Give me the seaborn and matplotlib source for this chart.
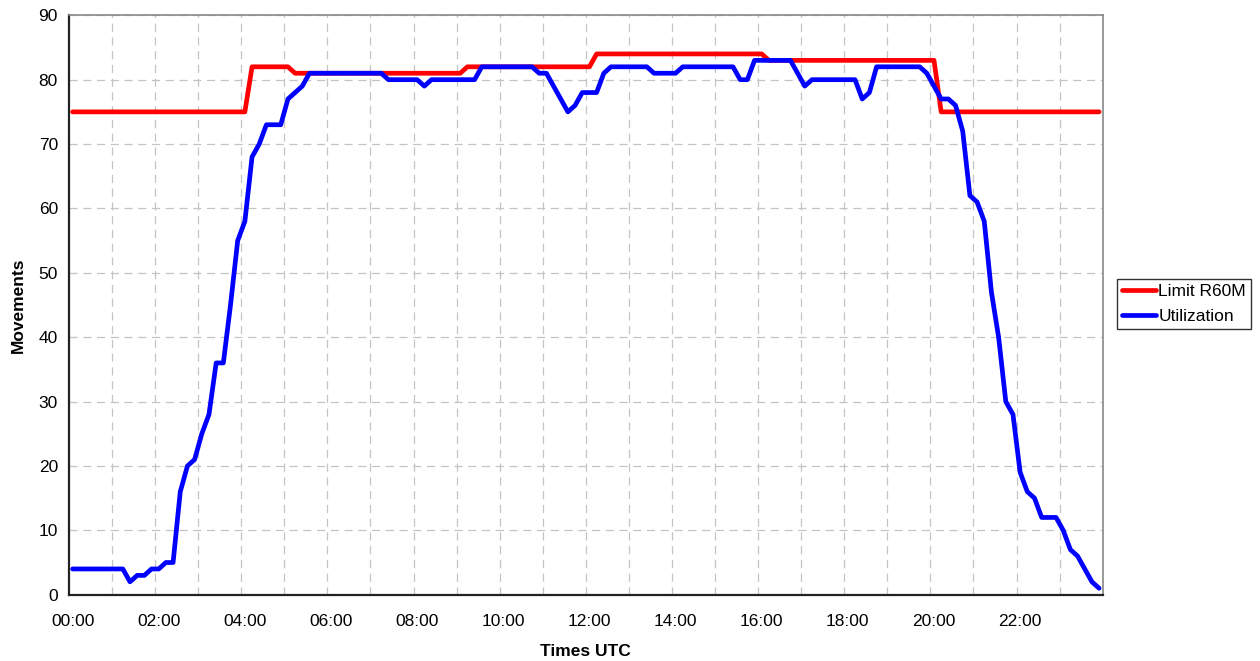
import numpy as np
import pandas as pd
import matplotlib
matplotlib.use("Agg")
import matplotlib.pyplot as plt
import seaborn as sns

# 10-minute slots over one day (category labels)
slots = [f"{h:02d}:{m:02d}" for h in range(24) for m in range(0, 60, 10)]

# values, one row per 2 hours
limit_r60m = [
    75, 75, 75, 75, 75, 75, 75, 75, 75, 75, 75, 75,
    75, 75, 75, 75, 75, 75, 75, 75, 75, 75, 75, 75,
    75, 82, 82, 82, 82, 82, 82, 81, 81, 81, 81, 81,
    81, 81, 81, 81, 81, 81, 81, 81, 81, 81, 81, 81,
    81, 81, 81, 81, 81, 81, 81, 82, 82, 82, 82, 82,
    82, 82, 82, 82, 82, 82, 82, 82, 82, 82, 82, 82,
    82, 84, 84, 84, 84, 84, 84, 84, 84, 84, 84, 84,
    84, 84, 84, 84, 84, 84, 84, 84, 84, 84, 84, 84,
    84, 83, 83, 83, 83, 83, 83, 83, 83, 83, 83, 83,
    83, 83, 83, 83, 83, 83, 83, 83, 83, 83, 83, 83,
    83, 75, 75, 75, 75, 75, 75, 75, 75, 75, 75, 75,
    75, 75, 75, 75, 75, 75, 75, 75, 75, 75, 75, 75,
]
utilization = [
    4, 4, 4, 4, 4, 4, 4, 4, 2, 3, 3, 4,
    4, 5, 5, 16, 20, 21, 25, 28, 36, 36, 45, 55,
    58, 68, 70, 73, 73, 73, 77, 78, 79, 81, 81, 81,
    81, 81, 81, 81, 81, 81, 81, 81, 80, 80, 80, 80,
    80, 79, 80, 80, 80, 80, 80, 80, 80, 82, 82, 82,
    82, 82, 82, 82, 82, 81, 81, 79, 77, 75, 76, 78,
    78, 78, 81, 82, 82, 82, 82, 82, 82, 81, 81, 81,
    81, 82, 82, 82, 82, 82, 82, 82, 82, 80, 80, 83,
    83, 83, 83, 83, 83, 81, 79, 80, 80, 80, 80, 80,
    80, 80, 77, 78, 82, 82, 82, 82, 82, 82, 82, 81,
    79, 77, 77, 76, 72, 62, 61, 58, 47, 40, 30, 28,
    19, 16, 15, 12, 12, 12, 10, 7, 6, 4, 2, 1,
]
series_names = ["Limit R60M", "Utilization"]
series_colors = ["#ff0000", "#0000ff"]

# each category sits in the middle of its 10-minute slot (Excel category axis)
hours = [int(s[:2]) + (int(s[3:]) + 5) / 60 for s in slots]

df = pd.concat([
    pd.DataFrame({"hour": hours, "value": limit_r60m, "series": series_names[0]}),
    pd.DataFrame({"hour": hours, "value": utilization, "series": series_names[1]}),
])

sns.set_style("white")
plt.rcParams["font.family"] = ["Liberation Sans", "DejaVu Sans"]
plt.rcParams["text.color"] = "black"
plt.rcParams["axes.labelcolor"] = "black"
plt.rcParams["xtick.color"] = "black"
plt.rcParams["ytick.color"] = "black"

fig = plt.figure(figsize=(12.6, 6.61), dpi=100)
ax = fig.add_axes([69 / 1260, 1 - 594.7 / 661, (1102.7 - 69) / 1260, (594.7 - 15.3) / 661])

grid_kw = dict(color="#c4c4c4", linewidth=0.9, linestyle=(0, (6.5, 4.5)))
for h in range(1, 24):
    ax.axvline(h, zorder=0, **grid_kw)
ax.yaxis.grid(True, **grid_kw)
ax.set_axisbelow(True)

sns.lineplot(data=df, x="hour", y="value", hue="series", hue_order=series_names,
             palette=dict(zip(series_names, series_colors)), linewidth=3.4,
             ax=ax, legend=False, solid_joinstyle="round", solid_capstyle="round")

ax.set_xlim(0, 24)
ax.set_ylim(0, 90)
ax.set_yticks(np.arange(0, 91, 10))

# tick marks every 2 hours, labels centred on the first slot of each pair of hours
ax.set_xticks(np.arange(0, 25, 2))
ax.set_xticklabels([])
ax.set_xticks([hours[i] for i in range(0, len(slots), 12)], minor=True)
ax.set_xticklabels([slots[i] for i in range(0, len(slots), 12)], minor=True)
ax.tick_params(axis="x", which="minor", length=0, pad=14, labelsize=12.5, labelcolor="black")
ax.tick_params(axis="x", which="major", length=5, width=1.2, color="#222222", direction="out")
ax.tick_params(axis="y", length=5, width=1.2, color="#222222", direction="out", pad=3,
               labelsize=12.5, labelcolor="black")

for side in ["left", "bottom"]:
    ax.spines[side].set_color("#222222")
    ax.spines[side].set_linewidth(1.6)
for side in ["top", "right"]:
    ax.spines[side].set_color("#888888")
    ax.spines[side].set_linewidth(1.2)

ax.set_xlabel("Times UTC", fontsize=12.5, fontweight="bold", labelpad=11, color="black")
ax.set_ylabel("Movements", fontsize=12.5, fontweight="bold", labelpad=9, color="black")

handles = [plt.Line2D([], [], color=c, linewidth=3.4, solid_capstyle="round") for c in series_colors]
leg = fig.legend(handles, series_names, loc="upper left",
                 bbox_to_anchor=(1116.7 / 1260, 1 - 278.7 / 661),
                 frameon=True, fancybox=False, shadow=False, fontsize=12.5,
                 handlelength=1.95, handletextpad=0.15, borderpad=0.3,
                 labelspacing=0.55, borderaxespad=0)
leg.get_frame().set_edgecolor("#000000")
leg.get_frame().set_linewidth(1.0)
for t in leg.get_texts():
    t.set_color("black")

fig.savefig("out.png", dpi=100)
